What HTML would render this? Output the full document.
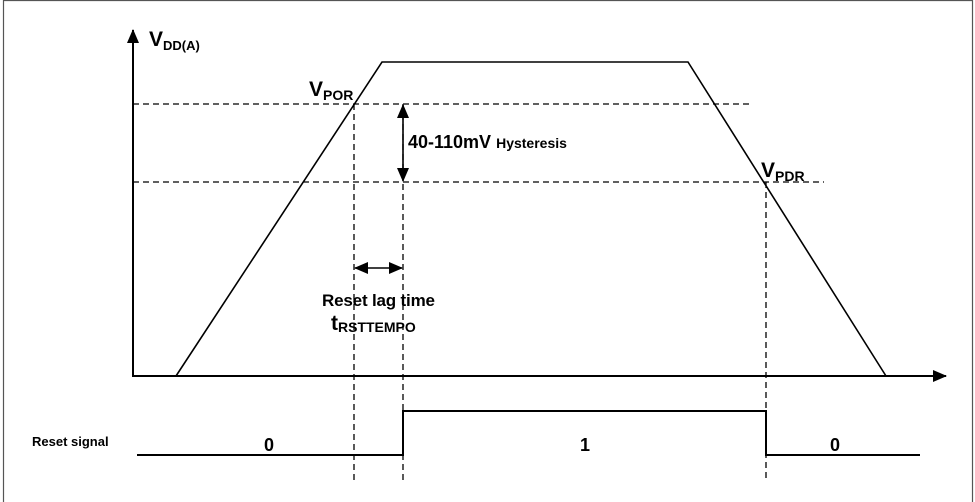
<!DOCTYPE html>
<html><head><style>
html,body{margin:0;padding:0;background:#fff;}
svg{display:block;}
text{font-family:"Liberation Sans",sans-serif;font-weight:bold;fill:#000;}
</style></head><body>
<svg width="975" height="502" viewBox="0 0 975 502" xmlns="http://www.w3.org/2000/svg">
<defs>
<marker id="ab" markerWidth="14" markerHeight="12" refX="13" refY="6" orient="auto" markerUnits="userSpaceOnUse"><path d="M0,0 L14,6 L0,12 Z" fill="#000"/></marker>
</defs>
<path d="M3.5,502 V0.5 H972.5 V502" fill="none" stroke="#555" stroke-width="1.2"/>
<line x1="133" y1="377" x2="133" y2="30" stroke="#000" stroke-width="2" marker-end="url(#ab)"/>
<line x1="133" y1="376" x2="946" y2="376" stroke="#000" stroke-width="2" marker-end="url(#ab)"/>
<polyline points="176,376 382,62 688,62 886,376" fill="none" stroke="#000" stroke-width="1.6"/>
<g stroke="#000" stroke-width="1.3" stroke-dasharray="6,4" fill="none">
<line x1="133" y1="104" x2="750" y2="104"/>
<line x1="133" y1="182" x2="824" y2="182"/>
<line x1="354" y1="104" x2="354" y2="482"/>
<line x1="403" y1="104" x2="403" y2="482"/>
<line x1="766" y1="182" x2="766" y2="482"/>
</g>
<line x1="403" y1="143" x2="403" y2="105" stroke="#000" stroke-width="1.6" marker-end="url(#ab)"/>
<line x1="403" y1="143" x2="403" y2="181" stroke="#000" stroke-width="1.6" marker-end="url(#ab)"/>
<line x1="378" y1="268" x2="355" y2="268" stroke="#000" stroke-width="1.6" marker-end="url(#ab)"/>
<line x1="378" y1="268" x2="402" y2="268" stroke="#000" stroke-width="1.6" marker-end="url(#ab)"/>
<polyline points="137,455 403,455 403,411 766,411 766,455 920,455" fill="none" stroke="#000" stroke-width="2"/>
<text x="149" y="46" font-size="21">V<tspan font-size="13" dy="4">DD(A)</tspan></text>
<text x="309" y="96" font-size="21">V<tspan font-size="14" dy="4">POR</tspan></text>
<text x="761" y="177" font-size="21">V<tspan font-size="14" dy="4">PDR</tspan></text>
<text x="408" y="148" font-size="18">40-110mV <tspan font-size="14">Hysteresis</tspan></text>
<text x="322" y="306" font-size="17" textLength="113">Reset lag time</text>
<text x="331" y="330" font-size="21">t<tspan font-size="14" dy="2">RSTTEMPO</tspan></text>
<text x="32" y="446" font-size="13">Reset signal</text>
<text x="264" y="451" font-size="18">0</text>
<text x="580" y="451" font-size="18">1</text>
<text x="830" y="451" font-size="18">0</text>
</svg>
</body></html>
